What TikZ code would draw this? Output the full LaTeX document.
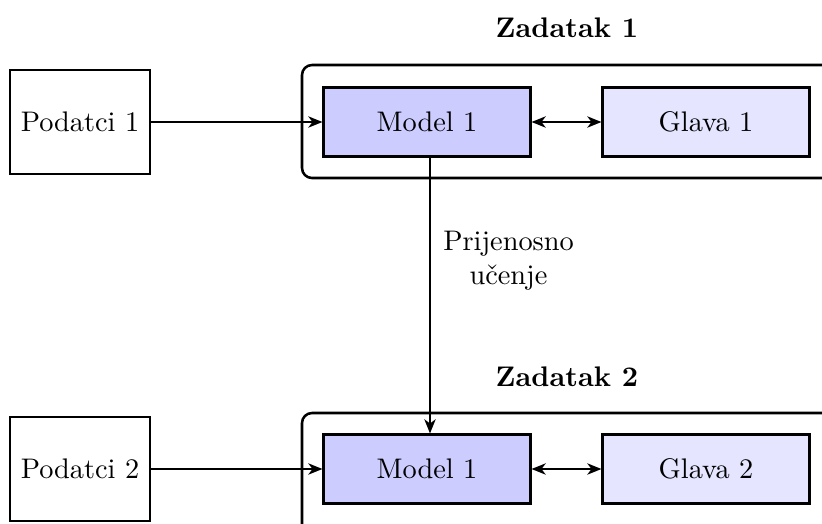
\documentclass[tikz,border=0pt]{standalone}
\usetikzlibrary{arrows.meta}
\begin{document}
\begin{tikzpicture}[x=0.353pt,y=-0.353pt,
  >={Stealth[length=5pt,width=4pt,inset=1.5pt]},
  databox/.style={draw,line width=0.75pt,minimum width=140*0.353pt,minimum height=104*0.353pt,inner sep=0pt},
  modelbox/.style={draw,line width=0.75pt,fill=blue!20,minimum width=207*0.353pt,minimum height=69*0.353pt,inner sep=0pt},
  headbox/.style={draw,line width=0.75pt,fill=blue!10,minimum width=207*0.353pt,minimum height=69*0.353pt,inner sep=0pt},
  group/.style={draw,line width=0.9pt,rounded corners=10*0.353pt},
  conn/.style={line width=0.7pt},
  title/.style={font=\bfseries}]
\useasboundingbox (0,0) rectangle (822,523);

% task groups (extend past the page edge)
\draw[group] (302,65) rectangle (840,178);
\draw[group] (302,413) rectangle (840,540);

\node[title] (t1) at (567,28) {Zadatak 1};
\node[title] (t2) at (567,377) {Zadatak 2};

% task 1
\node[databox] (d1) at (80,122) {Podatci 1};
\node[modelbox] (m1) at (427,122) {Model 1};
\node[headbox] (g1) at (706,122) {Glava 1};

% task 2
\node[databox] (d2) at (80,469) {Podatci 2};
\node[modelbox] (m2) at (427,469) {Model 1};
\node[headbox] (g2) at (706,469) {Glava 2};

\draw[conn,->] (d1) -- (m1);
\draw[conn,<->] (m1) -- (g1);
\draw[conn,->] (d2) -- (m2);
\draw[conn,<->] (m2) -- (g2);

\draw[conn,->] (m1.south -| 430,0) -- node[pos=0.375,right,align=center,xshift=1pt] (lbl) {Prijenosno\\učenje} (m2.north -| 430,0);
\end{tikzpicture}
\end{document}
